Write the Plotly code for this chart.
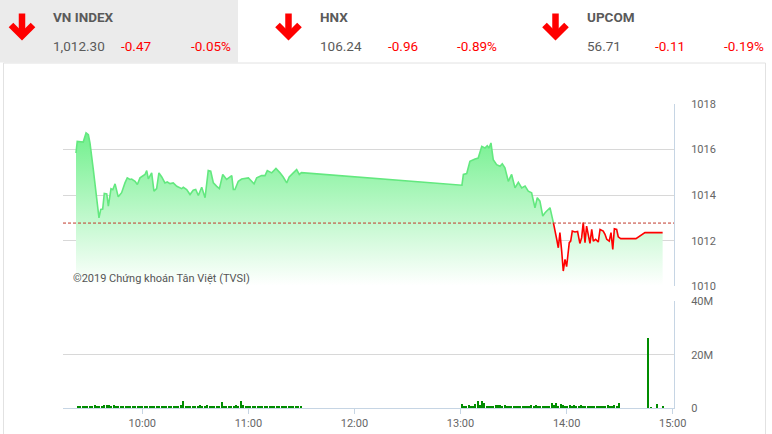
import plotly.graph_objects as go
import pandas as pd

W, H = 772, 434
DAY = "2019-10-01 "

# ---------------- data ----------------
PRICE_TIMES = [
    "09:22:30", "09:23:12", "09:26:36", "09:28:12", "09:29:30", "09:30:24", "09:32:18", "09:34:12",
    "09:35:30", "09:36:30", "09:37:36", "09:38:30", "09:39:54", "09:40:48", "09:42:18", "09:43:18",
    "09:44:36", "09:46:24", "09:48:18", "09:50:12", "09:51:30", "09:53:00", "09:54:00", "09:55:54",
    "09:57:12", "09:58:42", "10:01:30", "10:02:30", "10:03:24", "10:05:18", "10:06:36", "10:08:06",
    "10:09:24", "10:11:00", "10:12:48", "10:14:06", "10:15:42", "10:17:30", "10:19:30", "10:22:18",
    "10:23:12", "10:25:06", "10:27:00", "10:28:48", "10:30:12", "10:31:42", "10:33:36", "10:35:30",
    "10:37:18", "10:38:42", "10:40:12", "10:42:06", "10:43:36", "10:45:30", "10:47:42", "10:50:36",
    "10:51:30", "10:52:24", "10:54:18", "10:56:12", "11:00:00", "11:00:54", "11:03:12", "11:04:42",
    "11:07:30", "11:09:24", "11:10:42", "11:13:12", "11:15:36", "11:17:54", "11:19:42", "11:21:42",
    "11:23:06", "11:25:24", "11:27:18", "11:28:48", "11:30:00", "13:00:48", "13:01:36", "13:03:30",
    "13:05:18", "13:08:12", "13:10:00", "13:12:00", "13:13:48", "13:15:06", "13:16:06", "13:17:12",
    "13:18:30", "13:20:24", "13:22:18", "13:23:36", "13:25:06", "13:27:00", "13:28:54", "13:30:48",
    "13:32:42", "13:34:36", "13:36:30", "13:38:18", "13:40:12", "13:42:06", "13:43:24", "13:44:54",
    "13:46:30", "13:47:48", "13:50:36", "13:52:30", "13:53:24", "13:54:24", "13:55:18", "13:56:12",
    "13:57:12", "13:58:06", "13:59:06", "14:00:00", "14:01:30", "14:02:18", "14:03:12", "14:04:42",
    "14:06:12", "14:07:30", "14:08:30", "14:09:24", "14:10:24", "14:11:18", "14:13:12", "14:14:12",
    "14:15:06", "14:16:24", "14:17:54", "14:18:54", "14:20:42", "14:21:42", "14:22:42", "14:24:06",
    "14:25:06", "14:26:06", "14:27:00", "14:28:18", "14:29:12", "14:30:36", "14:39:12", "14:44:18",
    "14:54:18",
]
PRICE_VALUES = [
    1015.84, 1016.35, 1016.32, 1016.72, 1016.64, 1016.28, 1015.11, 1013.80,
    1013.00, 1013.37, 1013.38, 1014.07, 1014.05, 1013.51, 1014.27, 1014.23,
    1014.49, 1013.92, 1014.10, 1014.53, 1014.75, 1014.68, 1014.70, 1014.60,
    1014.46, 1014.75, 1014.90, 1015.07, 1014.71, 1014.97, 1014.17, 1014.28,
    1014.97, 1014.79, 1014.53, 1014.57, 1014.50, 1014.53, 1014.38, 1014.28,
    1014.34, 1014.24, 1014.02, 1014.21, 1014.24, 1013.98, 1014.34, 1013.88,
    1015.07, 1015.04, 1014.53, 1014.38, 1014.28, 1014.90, 1014.68, 1014.85,
    1014.24, 1014.24, 1014.60, 1014.70, 1014.75, 1014.68, 1014.49, 1014.75,
    1014.85, 1014.85, 1015.07, 1014.97, 1015.16, 1014.97, 1014.79, 1014.53,
    1014.79, 1014.97, 1015.11, 1014.90, 1014.98, 1014.43, 1014.90, 1014.94,
    1015.48, 1015.58, 1015.62, 1016.13, 1016.06, 1016.16, 1016.06, 1016.28,
    1015.55, 1015.33, 1015.26, 1015.37, 1015.19, 1014.60, 1014.90, 1014.31,
    1014.56, 1014.31, 1014.39, 1014.17, 1014.10, 1013.44, 1013.88, 1013.73,
    1013.08, 1013.22, 1013.44, 1012.79, 1012.35, 1012.06, 1011.69, 1012.35,
    1011.55, 1010.67, 1011.18, 1010.86, 1011.91, 1011.98, 1012.42, 1012.38,
    1012.40, 1011.88, 1012.13, 1012.79, 1011.91, 1012.64, 1011.88, 1012.49,
    1011.98, 1012.06, 1011.94, 1012.49, 1012.42, 1012.28, 1012.06, 1011.98,
    1012.35, 1011.62, 1012.52, 1012.49, 1012.17, 1012.09, 1012.09, 1012.35,
    1012.35,
]
REF_VALUE = 1012.77
SPLIT_INDEX = 107  # first point at/below reference -> red line

# volumes (millions of shares)
VOL_AM_START, VOL_AM_END = "09:23:30", "11:29:36"
VOL_AM = [
    0.38, 0.75, 0.38, 0.75, 0.38, 0.75, 0.38, 1.10, 0.75, 0.75, 0.75, 1.10, 1.10, 1.10, 0.75, 1.10,
    0.75, 0.75, 0.75, 0.38, 0.75, 0.38, 0.38, 0.75, 0.38, 0.75, 0.38, 0.38, 0.38, 0.38, 0.75, 0.75,
    0.75, 0.75, 0.75, 0.75, 0.38, 0.38, 0.38, 0.38, 0.75, 0.38, 0.75, 1.10, 2.50,
    0.75, 0.38, 0.38, 0.38, 0.38, 0.38, 1.10, 0.75, 0.38, 1.10, 0.75, 0.75, 0.38, 0.38, 0.38, 2.20,
    0.75, 0.38, 0.75, 0.75, 0.38, 1.10, 0.38, 2.60, 1.10, 0.38, 0.38, 0.38, 0.75, 0.38, 0.38, 0.75,
    0.75, 0.38, 0.75, 0.75, 0.38, 0.38, 0.75, 0.38, 0.38, 0.38, 0.38, 0.38, 0.75, 0.38, 0.38, 0.38,
    0.38,
]
VOL_PM_START, VOL_PM_END = "13:00:50", "14:29:36"
VOL_PM = [
    1.50, 0.38, 0.75, 1.10, 0.38, 0.75, 1.50, 2.60, 1.10, 2.60, 1.90, 0.75, 0.75, 0.75, 0.75, 1.10,
    1.10, 1.10, 0.75, 1.10, 0.75, 0.38, 0.75, 0.38, 0.38, 0.75, 0.75, 0.75, 0.75, 0.75, 0.75, 1.10,
    0.75, 1.10, 0.75, 0.75,
    0.75, 0.75, 0.75, 0.75, 1.90, 1.10, 1.90, 0.75, 1.50, 1.10, 0.75, 0.38, 1.10, 0.75, 1.10, 0.75,
    0.75, 1.10, 0.75, 0.75, 0.38, 0.75, 0.75, 0.75, 0.38, 0.75, 0.75, 0.75, 0.75, 1.10, 0.75, 0.75,
    1.10, 0.75, 1.90,
]
VOL_ATC_TIMES = ["14:46:12", "14:47:42", "14:51:18", "14:54:20"]
VOL_ATC = [26.0, 0.2, 1.5, 0.3]

Y_TICKS = [1010, 1012, 1014, 1016, 1018]
VOL_TICKS = [0, 20, 40]
VOL_TICK_LABELS = ["0", "20M", "40M"]
X_TICKS = ["10:00", "11:00", "12:00", "13:00", "14:00", "15:00"]
X_RANGE = ["09:15:09", "15:00:44"]

INDICES = ["VN INDEX", "HNX", "UPCOM"]
INDEX_VALUES = ["1,012.30", "106.24", "56.71"]
INDEX_CHANGES = ["-0.47", "-0.96", "-0.11"]
INDEX_PCTS = ["-0.05%", "-0.89%", "-0.19%"]

WATERMARK = "©2019 Chứng khoán Tân Việt (TVSI)"

# ---------------- helpers ----------------
def px(x):
    return x / W

def py(y):
    return 1 - y / H

def ts(t):
    return pd.Timestamp(DAY + t)

def spread(start, end, n):
    return list(pd.date_range(ts(start), ts(end), periods=n))

price_x = [ts(t) for t in PRICE_TIMES]
vol_x = spread(VOL_AM_START, VOL_AM_END, len(VOL_AM)) + spread(VOL_PM_START, VOL_PM_END, len(VOL_PM)) \
    + [ts(t) for t in VOL_ATC_TIMES]
vol_y = VOL_AM + VOL_PM + VOL_ATC

GREEN_LINE = "#63e87f"
RED = "#ff0000"
GREY_TEXT = "#5a5a5a"
AXIS_BLUE = "#c6d5e4"
GRID = "#d8d8d8"
FONT = "Roboto"

fig = go.Figure()

# gradient area under the whole series
fig.add_trace(go.Scatter(
    x=price_x, y=PRICE_VALUES, mode="lines", line=dict(width=0, color=GREEN_LINE),
    fill="tozeroy",
    fillgradient=dict(type="vertical", start=1010, stop=1016.8,
                      colorscale=[[0, "rgba(255,255,255,1)"], [1, "rgba(112,240,140,1)"]]),
    hoverinfo="skip", showlegend=False, xaxis="x", yaxis="y",
))
fig.add_trace(go.Scatter(
    x=price_x[:SPLIT_INDEX + 1], y=PRICE_VALUES[:SPLIT_INDEX + 1], mode="lines",
    line=dict(width=1.6, color=GREEN_LINE), showlegend=False, xaxis="x", yaxis="y",
))
fig.add_trace(go.Scatter(
    x=price_x[SPLIT_INDEX:], y=PRICE_VALUES[SPLIT_INDEX:], mode="lines",
    line=dict(width=1.6, color=RED), showlegend=False, xaxis="x", yaxis="y",
))
fig.add_trace(go.Bar(
    x=vol_x, y=vol_y, marker=dict(color="#008c00", line=dict(width=0)),
    width=36000, showlegend=False, xaxis="x2", yaxis="y2",
))

x_domain = [px(63), px(674)]
x_range = [ts(X_RANGE[0]), ts(X_RANGE[1])]
tickfont = dict(family=FONT, size=11, color="#666666")

fig.update_layout(
    width=W, height=H, margin=dict(l=0, r=0, t=0, b=0, pad=0, autoexpand=False),
    paper_bgcolor="white", plot_bgcolor="white",
    font=dict(family=FONT),
    bargap=0,
    xaxis=dict(domain=x_domain, anchor="y", type="date", range=x_range, automargin=False,
               showticklabels=False, showgrid=False, zeroline=False, showline=False, ticks=""),
    yaxis=dict(domain=[py(286.3), py(103.7)], anchor="x", side="right", range=[1010, 1018],
               automargin=False,
               tickvals=Y_TICKS, ticktext=[str(v) for v in Y_TICKS],
               showgrid=True, gridcolor=GRID, zeroline=False,
               showline=True, linecolor=AXIS_BLUE, linewidth=1, ticks="",
               ticklabelstandoff=14, tickfont=tickfont),
    xaxis2=dict(domain=x_domain, anchor="y2", type="date", range=x_range, automargin=False,
                tickvals=[ts(t) for t in X_TICKS], ticktext=X_TICKS,
                showgrid=False, zeroline=False, showline=True, linecolor=AXIS_BLUE, linewidth=1,
                ticks="outside", ticklen=5, tickcolor=AXIS_BLUE, tickfont=tickfont),
    yaxis2=dict(domain=[py(408), py(301.3)], anchor="x2", side="right", range=[0, 40],
                automargin=False,
                tickvals=VOL_TICKS, ticktext=VOL_TICK_LABELS,
                showgrid=True, gridcolor=GRID, zeroline=False,
                showline=True, linecolor=AXIS_BLUE, linewidth=1, ticks="",
                ticklabelstandoff=14, tickfont=tickfont),
)

shapes = [
    # header highlight box and container border
    dict(type="rect", xref="paper", yref="paper", x0=px(0), x1=px(238), y0=py(62.5), y1=py(0),
         fillcolor="#ebebeb", line=dict(width=0), layer="below"),
    dict(type="rect", xref="paper", yref="paper", x0=px(3.5), x1=px(765.5), y0=py(440), y1=py(63),
         fillcolor="rgba(0,0,0,0)", line=dict(width=1, color="#e2e2e2"), layer="below"),
    # reference line
    dict(type="line", xref="x domain", yref="y", x0=0, x1=1, y0=REF_VALUE, y1=REF_VALUE,
         line=dict(width=1, color="#c0392b", dash="3px,2px")),
]
annotations = []
arrow_cx = [22, 288.5, 555.5]
name_x = [53, 320, 587]
chg_x = [121, 388, 655]
pct_x = [191, 457, 724]
for i in range(3):
    cx = arrow_cx[i]
    shapes.append(dict(type="path", xref="paper", yref="paper",
                       path=f"M {px(cx)} {py(13.5)} L {px(cx)} {py(35)}",
                       line=dict(width=6.5, color=RED)))
    shapes.append(dict(type="path", xref="paper", yref="paper",
                       path=f"M {px(cx - 11)} {py(25)} L {px(cx)} {py(36)} L {px(cx + 11)} {py(25)}",
                       line=dict(width=6.5, color=RED)))
    annotations.append(dict(xref="paper", yref="paper", x=px(name_x[i] - 2), y=py(17),
                            xanchor="left", yanchor="middle", showarrow=False,
                            text=f"<b>{INDICES[i]}</b>",
                            font=dict(family=FONT, size=13.5, color=GREY_TEXT)))
    annotations.append(dict(xref="paper", yref="paper", x=px(name_x[i] - 2), y=py(46),
                            xanchor="left", yanchor="middle", showarrow=False,
                            text=INDEX_VALUES[i],
                            font=dict(family=FONT, size=13.5, color=GREY_TEXT)))
    annotations.append(dict(xref="paper", yref="paper", x=px(chg_x[i] - 2), y=py(46),
                            xanchor="left", yanchor="middle", showarrow=False,
                            text=INDEX_CHANGES[i],
                            font=dict(family=FONT, size=13.5, color=RED)))
    annotations.append(dict(xref="paper", yref="paper", x=px(pct_x[i] - 2), y=py(46),
                            xanchor="left", yanchor="middle", showarrow=False,
                            text=INDEX_PCTS[i],
                            font=dict(family=FONT, size=13.5, color=RED)))

annotations.append(dict(xref="paper", yref="paper", x=px(71), y=py(278),
                        xanchor="left", yanchor="middle", showarrow=False,
                        text=WATERMARK, font=dict(family=FONT, size=11, color="#555555")))

fig.update_layout(shapes=shapes, annotations=annotations)
fig.write_html(
    "out.html",
    config={"displayModeBar": False},
    post_script="document.body.style.margin='0';document.body.style.overflow='hidden';",
)
